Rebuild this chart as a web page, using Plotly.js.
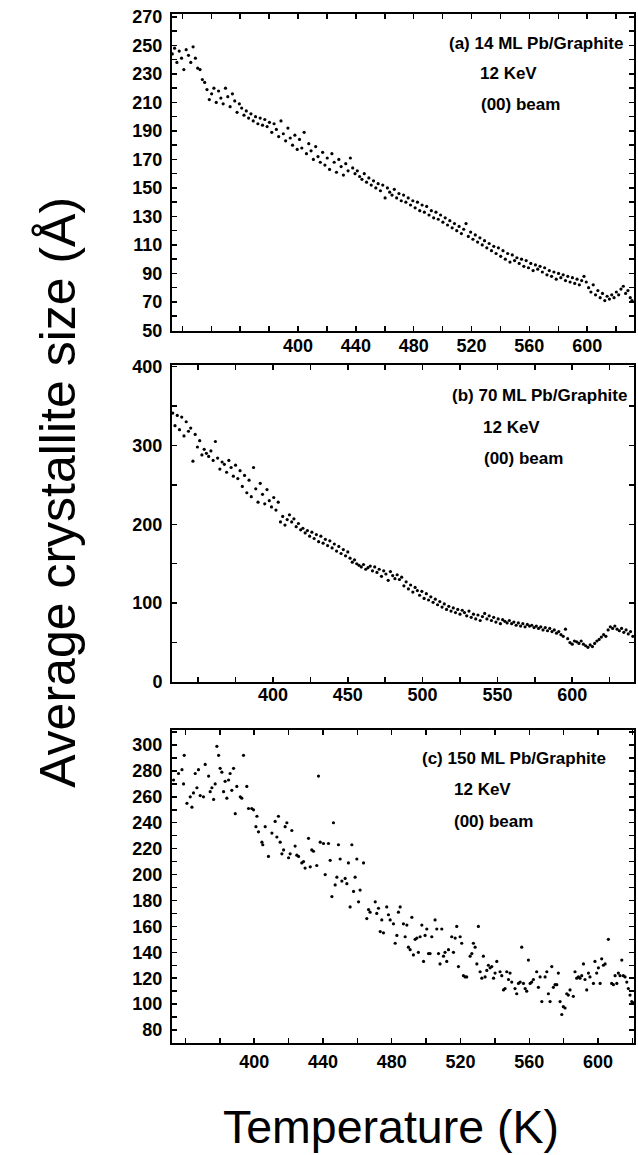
<!DOCTYPE html>
<html>
<head>
<meta charset="utf-8">
<script src="https://cdn.plot.ly/plotly-3.0.1.min.js"></script>
<style>html,body{margin:0;padding:0;background:#fff;}#chart{width:638px;height:1155px;}</style>
</head>
<body>
<div id="chart"></div>
<script>
// ---------- Panel (a): 14 ML Pb/Graphite ----------
const tempA = [313,314.6,316.2,317.8,319.4,321,322.6,324.2,325.8,327.4,
329,330.6,332.2,333.8,335.4,337,338.6,340.2,341.8,343.4,
345,346.6,348.2,349.8,351.4,353,354.6,356.2,357.8,359.4,
361,362.6,364.2,365.8,367.4,369,370.6,372.2,373.8,375.4,
377,378.6,380.2,381.8,383.4,385,386.6,388.2,389.8,391.4,
393,394.6,396.2,397.8,399.4,401,402.6,404.2,405.8,407.4,
409,410.6,412.2,413.8,415.4,417,418.6,420.2,421.8,423.4,
425,426.6,428.2,429.8,431.4,433,434.6,436.2,437.8,439.4,
441,442.6,444.2,445.8,447.4,449,450.6,452.2,453.8,455.4,
457,458.6,460.2,461.8,463.4,465,466.6,468.2,469.8,471.4,
473,474.6,476.2,477.8,479.4,481,482.6,484.2,485.8,487.4,
489,490.6,492.2,493.8,495.4,497,498.6,500.2,501.8,503.4,
505,506.6,508.2,509.8,511.4,513,514.6,516.2,517.8,519.4,
521,522.6,524.2,525.8,527.4,529,530.6,532.2,533.8,535.4,
537,538.6,540.2,541.8,543.4,545,546.6,548.2,549.8,551.4,
553,554.6,556.2,557.8,559.4,561,562.6,564.2,565.8,567.4,
569,570.6,572.2,573.8,575.4,577,578.6,580.2,581.8,583.4,
585,586.6,588.2,589.8,591.4,593,594.6,596.2,597.8,599.4,
601,602.6,604.2,605.8,607.4,609,610.6,612.2,613.8,615.4,
617,618.6,620.2,621.8,623.4,625,626.6,628.2,629.8,631];
const sizeA = [244,248,238,246,241,233,247,243,238,249,
241,234,233,226,224,219,212,216,220,210,
218,213,209,220,214,207,216,211,203,209,
206,201,204,199,202,197,200,195,199,194,
198,193,196,189,195,191,186,197,188,183,
192,185,180,187,177,184,178,189,174,181,
176,170,179,172,168,175,166,171,163,174,
168,161,170,165,159,167,162,171,164,160,
162,158,156,160,154,157,152,155,150,153,
148,152,143,150,147,145,149,143,146,141,
145,140,143,138,141,136,140,134,138,133,
137,131,134,129,133,128,131,126,129,124,
127,122,125,120,123,118,121,125,116,119,
114,117,112,115,110,113,108,111,106,109,
104,108,102,106,100,104,98,103,99,101,
97,100,95,99,94,97,92,96,93,95,
91,94,89,92,88,91,86,90,87,89,
85,88,84,87,83,86,82,85,88,84,
80,77,82,75,78,73,76,71,74,72,
75,73,77,75,79,81,76,78,73,71];

// ---------- Panel (b): 70 ML Pb/Graphite ----------
const tempB = [333,334.5,336,337.5,339,340.5,342,343.5,345,346.5,
348,349.5,351,352.5,354,355.5,357,358.5,360,361.5,
363,364.5,366,367.5,369,370.5,372,373.5,375,376.5,
378,379.5,381,382.5,384,385.5,387,388.5,390,391.5,
393,394.5,396,397.5,399,400.5,402,403.5,405,406.5,
408,409.5,411,412.5,414,415.5,417,418.5,420,421.5,
423,424.5,426,427.5,429,430.5,432,433.5,435,436.5,
438,439.5,441,442.5,444,445.5,447,448.5,450,451.5,
453,454.5,456,457.5,459,460.5,462,463.5,465,466.5,
468,469.5,471,472.5,474,475.5,477,478.5,480,481.5,
483,484.5,486,487.5,489,490.5,492,493.5,495,496.5,
498,499.5,501,502.5,504,505.5,507,508.5,510,511.5,
513,514.5,516,517.5,519,520.5,522,523.5,525,526.5,
528,529.5,531,532.5,534,535.5,537,538.5,540,541.5,
543,544.5,546,547.5,549,550.5,552,553.5,555,556.5,
558,559.5,561,562.5,564,565.5,567,568.5,570,571.5,
573,574.5,576,577.5,579,580.5,582,583.5,585,586.5,
588,589.5,591,592.5,594,595.5,597,598.5,600,601.5,
603,604.5,606,607.5,609,610.5,612,613.5,615,616.5,
618,619.5,621,622.5,624,625.5,627,628.5,630,631.5,
633,634.5,636,637.5,639,640.5];
const sizeB = [341,325,338,320,336,312,330,318,322,280,
314,298,306,288,295,290,286,293,281,305,
284,270,279,276,266,281,272,261,275,258,
268,248,262,240,256,235,272,245,228,252,
238,226,244,230,222,234,218,228,203,210,
199,206,212,203,207,197,201,193,195,189,
192,185,190,182,187,178,185,176,181,173,
179,170,175,166,172,163,168,160,165,157,
152,155,150,148,146,149,143,145,147,141,
146,139,143,134,141,137,129,140,135,131,
136,130,133,122,127,118,123,114,120,116,
110,115,106,112,104,108,101,105,98,102,
95,99,92,96,90,94,88,92,86,91,
88,84,90,82,86,80,85,78,83,87,
80,84,78,82,76,80,74,79,77,75,
78,74,76,72,75,71,74,70,73,71,
72,69,71,68,70,66,69,65,68,64,
66,62,64,60,58,67,55,50,48,52,
51,49,52,48,46,44,47,45,49,52,
54,57,60,58,66,70,68,71,67,65,
68,63,66,61,64,58];

// ---------- Panel (c): 150 ML Pb/Graphite ----------
const tempC = [353.1,356.0,358.0,358.9,359.3,360.9,362.8,363.8,364.7,365.7,
366.7,367.6,368.6,370.5,371.5,373.5,374.4,375.4,376.4,377.3,
378.3,379.3,380.2,381.2,382.2,383.1,384.1,385.1,386.0,387.0,
388.0,389.0,389.9,391.9,392.8,393.8,395.7,
396.7,398.6,399.6,401.6,401.0,402.5,404.5,405.0,406.4,408.3,
410.3,412.2,413.2,414.1,415.1,416.1,417.1,418.0,419.0,420.0,
420.9,421.9,423.8,424.8,425.8,427.7,428.7,429.6,431.6,432.6,
433.5,434.5,436.4,437.4,438.4,440.3,441.3,443.2,444.2,445.2,
446.1,447.1,448.1,449.0,450.0,451.0,452.9,453.9,454.8,455.8,
456.8,457.8,458.7,459.7,460.7,461.6,463.6,
465.5,466.5,467.4,470.4,471.3,472.3,473.3,474.2,475.2,477.1,
478.1,479.1,481.0,482.0,483.0,483.9,484.9,486.8,487.8,488.8,
489.7,490.7,491.7,492.6,493.6,494.6,495.5,496.5,497.5,498.5,
499.4,500.4,501.4,502.3,503.3,505.2,506.2,507.2,508.1,509.1,
510.1,511.0,512.0,513.0,514.9,515.9,516.9,517.8,518.8,519.8,
520.7,521.7,522.7,523.6,525.6,526.6,527.5,528.5,529.5,530.4,
531.4,532.4,533.3,534.3,535.3,536.2,537.2,538.2,539.2,540.1,
541.1,543.0,544.0,545.0,545.9,546.9,547.9,548.8,549.8,551.7,
552.7,553.7,554.7,555.6,556.6,557.6,558.5,559.5,560.5,561.4,
562.4,564.3,565.3,566.3,567.3,569.2,570.2,571.1,572.1,573.1,
574.0,575.0,576.0,576.9,577.9,578.9,579.8,580.8,581.8,582.7,
583.7,585.6,586.6,587.6,588.6,589.5,590.5,591.5,592.4,593.4,
594.4,595.3,597.3,598.2,599.2,600.2,601.2,602.1,603.1,604.1,
606.0,607.9,608.9,609.9,610.9,611.8,612.8,613.8,614.7,615.7,
616.7,617.6,618.6,619.6,620.5];
const sizeC = [273,278,281,270,292,255,260,252,263,278,
267,281,261,260,285,276,264,267,258,270,
299,292,282,279,264,272,259,273,278,265,
282,247,268,260,259,292,268,
251,251,250,245,237,233,225,223,237,214,
232,241,229,245,225,216,219,237,240,213,
216,234,222,215,214,209,210,205,228,206,
219,218,207,276,225,224,200,224,211,183,
240,192,198,223,212,195,197,193,209,175,
223,187,198,212,179,188,209,
166,173,171,179,170,174,156,165,155,175,
169,165,162,147,153,171,175,162,152,161,
144,142,167,138,150,151,140,152,161,133,
153,158,139,139,152,165,158,139,131,158,
137,140,133,142,152,140,151,160,129,152,
147,122,121,121,137,139,147,144,131,160,
125,120,137,121,126,130,128,129,120,124,
133,125,122,111,112,125,119,124,117,112,
108,116,117,144,116,112,110,134,116,117,
119,125,113,121,102,121,125,108,102,129,
113,115,115,124,102,92,98,97,108,107,
111,106,125,120,121,120,122,131,119,111,
124,121,116,133,124,128,116,135,130,131,
150,116,115,122,116,124,122,134,122,121,
117,112,107,102,101];

// ---------- Tick positions and labels ----------
const xTicksA = [320,340,360,380,400,420,440,460,480,500,520,540,560,580,600,620];
const xLabelsA = [400,440,480,520,560,600];
const yTicksA = [50,60,70,80,90,100,110,120,130,140,150,160,170,180,190,200,210,220,230,240,250,260,270];
const yLabelsA = [50,70,90,110,130,150,170,190,210,230,250,270];
const xTicksB = [350,375,400,425,450,475,500,525,550,575,600,625];
const xLabelsB = [400,450,500,550,600];
const yTicksB = [0,50,100,150,200,250,300,350,400];
const yLabelsB = [0,100,200,300,400];
const xTicksC = [360,380,400,420,440,460,480,500,520,540,560,580,600,620];
const xLabelsC = [400,440,480,520,560,600];
const yTicksC = [80,90,100,110,120,130,140,150,160,170,180,190,200,210,220,230,240,250,260,270,280,290,300,310];
const yLabelsC = [80,100,120,140,160,180,200,220,240,260,280,300];

function tt(vals, labels){ return vals.map(v => labels.includes(v) ? String(v) : ''); }

const FONT = 'Liberation Sans, Arial, Helvetica, sans-serif';
const tickFont = {family: FONT, size: 18, color: '#000', weight: 'bold'};

function axis(extra){
  return Object.assign({
    showline: true, linecolor: '#000', linewidth: 2, mirror: 'ticks',
    ticks: 'inside', ticklen: 5, tickwidth: 1.5, tickcolor: '#000',
    showgrid: false, zeroline: false, tickmode: 'array',
    tickfont: tickFont, fixedrange: true
  }, extra);
}

const mk = {color: '#000', size: 3.2, symbol: 'circle'};
const traces = [
  {x: tempA, y: sizeA, xaxis: 'x', yaxis: 'y', type: 'scatter', mode: 'markers', marker: mk, cliponaxis: false},
  {x: tempB, y: sizeB, xaxis: 'x2', yaxis: 'y2', type: 'scatter', mode: 'markers', marker: mk, cliponaxis: false},
  {x: tempC, y: sizeC, xaxis: 'x3', yaxis: 'y3', type: 'scatter', mode: 'markers', marker: mk, cliponaxis: false}
];

function note(text, x, y){
  return {text: text, xref: 'paper', yref: 'paper', x: x, y: y, xanchor: 'left', yanchor: 'middle',
    showarrow: false, font: {family: FONT, size: 17, color: '#000', weight: 'bold'}};
}

const layout = {
  width: 638, height: 1155,
  margin: {l: 172, r: 4, t: 14, b: 112},
  paper_bgcolor: '#fff', plot_bgcolor: '#fff',
  showlegend: false,
  xaxis: axis({anchor: 'y', domain: [0, 1], range: [312.8, 632.4], tickvals: xTicksA, ticktext: tt(xTicksA, xLabelsA), ticklabelstandoff: -3}),
  yaxis: axis({anchor: 'x', domain: [0.6919, 1], range: [49.6, 272], tickvals: yTicksA, ticktext: tt(yTicksA, yLabelsA), ticklabelstandoff: 4}),
  xaxis2: axis({anchor: 'y2', domain: [0, 1], range: [332.5, 641.3], tickvals: xTicksB, ticktext: tt(xTicksB, xLabelsB), ticklabelstandoff: -5}),
  yaxis2: axis({anchor: 'x2', domain: [0.3508, 0.6589], range: [0, 402], tickvals: yTicksB, ticktext: tt(yTicksB, yLabelsB), ticklabelstandoff: 4}),
  xaxis3: axis({anchor: 'y3', domain: [0, 1], range: [352.2, 620.9], tickvals: xTicksC, ticktext: tt(xTicksC, xLabelsC), ticklabelstandoff: 1}),
  yaxis3: axis({anchor: 'x3', domain: [0, 0.3042], range: [70, 311.6], tickvals: yTicksC, ticktext: tt(yTicksC, yLabelsC), ticklabelstandoff: 4}),
  annotations: [
    note('(a) 14 ML Pb/Graphite', 0.5952, 0.9718),
    note('12 KeV', 0.6623, 0.9417),
    note('(00) beam', 0.6645, 0.9116),
    note('(b) 70 ML Pb/Graphite', 0.6017, 0.6297),
    note('12 KeV', 0.6688, 0.5986),
    note('(00) beam', 0.6710, 0.5685),
    note('(c) 150 ML Pb/Graphite', 0.5368, 0.2760),
    note('12 KeV', 0.6061, 0.2459),
    note('(00) beam', 0.6061, 0.2148),
    {text: 'Temperature (K)', xref: 'paper', yref: 'paper', x: 0.4751, y: -0.0815,
     xanchor: 'center', yanchor: 'middle', showarrow: false,
     font: {family: FONT, size: 46.5, color: '#000'}},
    {text: 'Average crystallite size (Å)', xref: 'paper', yref: 'paper', x: -0.246, y: 0.535,
     xanchor: 'center', yanchor: 'middle', textangle: -90, showarrow: false,
     font: {family: FONT, size: 50, color: '#000'}}
  ]
};

Plotly.newPlot('chart', traces, layout, {displayModeBar: false, staticPlot: true});
</script>
</body>
</html>
